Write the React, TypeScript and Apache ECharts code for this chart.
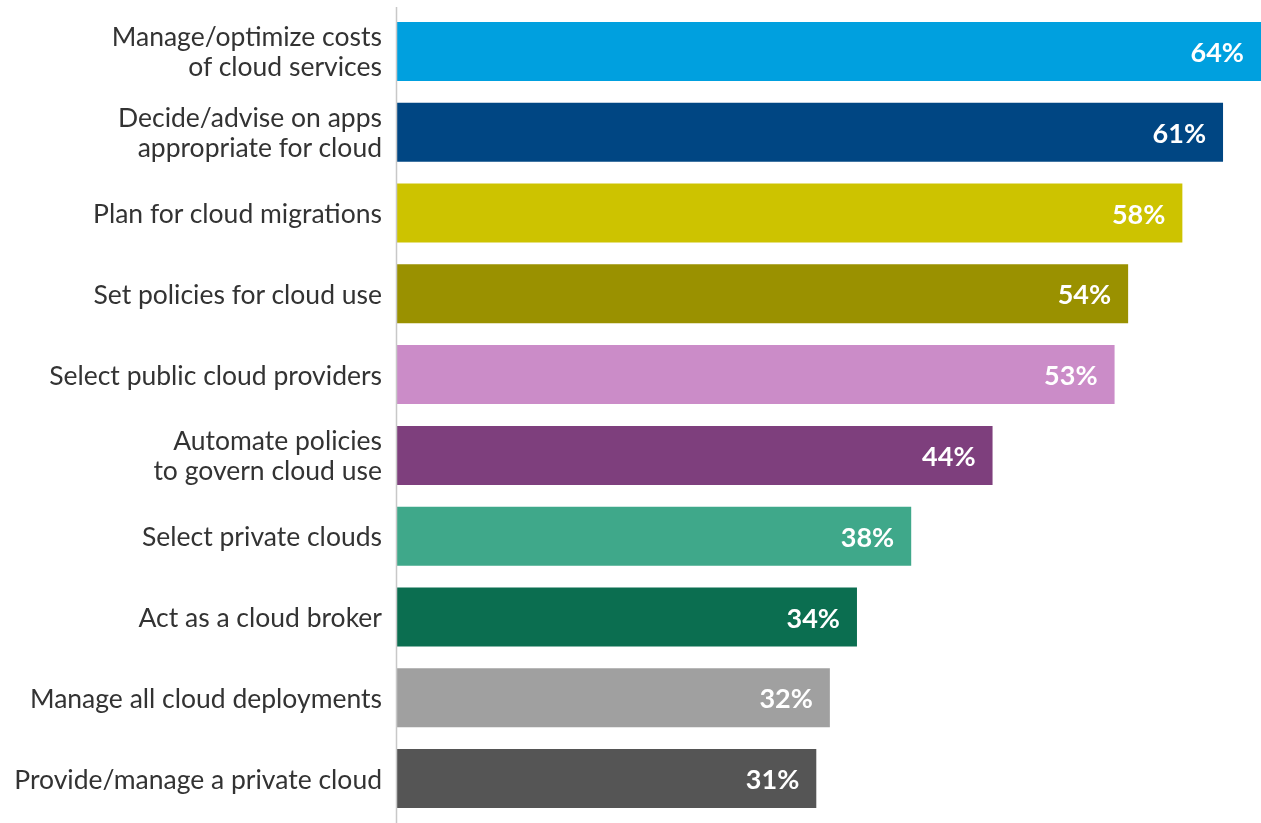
import React, { useEffect, useRef } from "react";
import * as echarts from "echarts";

const categories = [
  "Manage/optimize costs\nof cloud services",
  "Decide/advise on apps\nappropriate for cloud",
  "Plan for cloud migrations",
  "Set policies for cloud use",
  "Select public cloud providers",
  "Automate policies\nto govern cloud use",
  "Select private clouds",
  "Act as a cloud broker",
  "Manage all cloud deployments",
  "Provide/manage a private cloud",
];
const values = [64, 61, 58, 54, 53, 44, 38, 34, 32, 31];
const colors = [
  "#00A0DF",
  "#004683",
  "#CDC300",
  "#9A9100",
  "#CB8CC8",
  "#7E3F7D",
  "#3FA88A",
  "#0B6E50",
  "#A0A0A0",
  "#555555",
];

export default function App() {
  const ref = useRef<HTMLDivElement>(null);
  useEffect(() => {
    if (!ref.current) return;
    const chart = echarts.init(ref.current, null, { renderer: "svg" });
    chart.setOption({
      animation: false,
      grid: { left: 396, right: 0, top: 11, bottom: 4, containLabel: false },
      xAxis: {
        type: "value",
        min: 0,
        max: 63.8,
        show: false,
      },
      yAxis: {
        type: "category",
        inverse: true,
        data: categories,
        axisLine: { show: false },
        axisTick: { show: false },
        splitLine: { show: false },
        axisLabel: {
          margin: 14,
          fontFamily: "Lato",
          fontSize: 26.5,
          lineHeight: 30,
          color: "#333333",
          align: "right",
          padding: [0, 0, 5, 0],
        },
      },
      graphic: [
        {
          type: "line",
          shape: { x1: 396.5, y1: 7, x2: 396.5, y2: 823 },
          style: { stroke: "#c8c8c8", lineWidth: 1.5 },
          z: 10,
        },
      ],
      series: [
        {
          type: "bar",
          barWidth: 59,
          data: values.map((v, i) => ({ value: v, itemStyle: { color: colors[i] } })),
          label: {
            show: true,
            position: "insideRight",
            distance: 17,
            formatter: "{c}%",
            color: "#ffffff",
            fontFamily: "Lato",
            fontWeight: "bold",
            fontSize: 27,
            padding: [0, 0, 3, 0],
          },
        },
      ],
    });
    return () => chart.dispose();
  }, []);
  return (
    <div
      ref={ref}
      style={{ position: "fixed", left: 0, top: 0, width: 1261, height: 823 }}
    />
  );
}
